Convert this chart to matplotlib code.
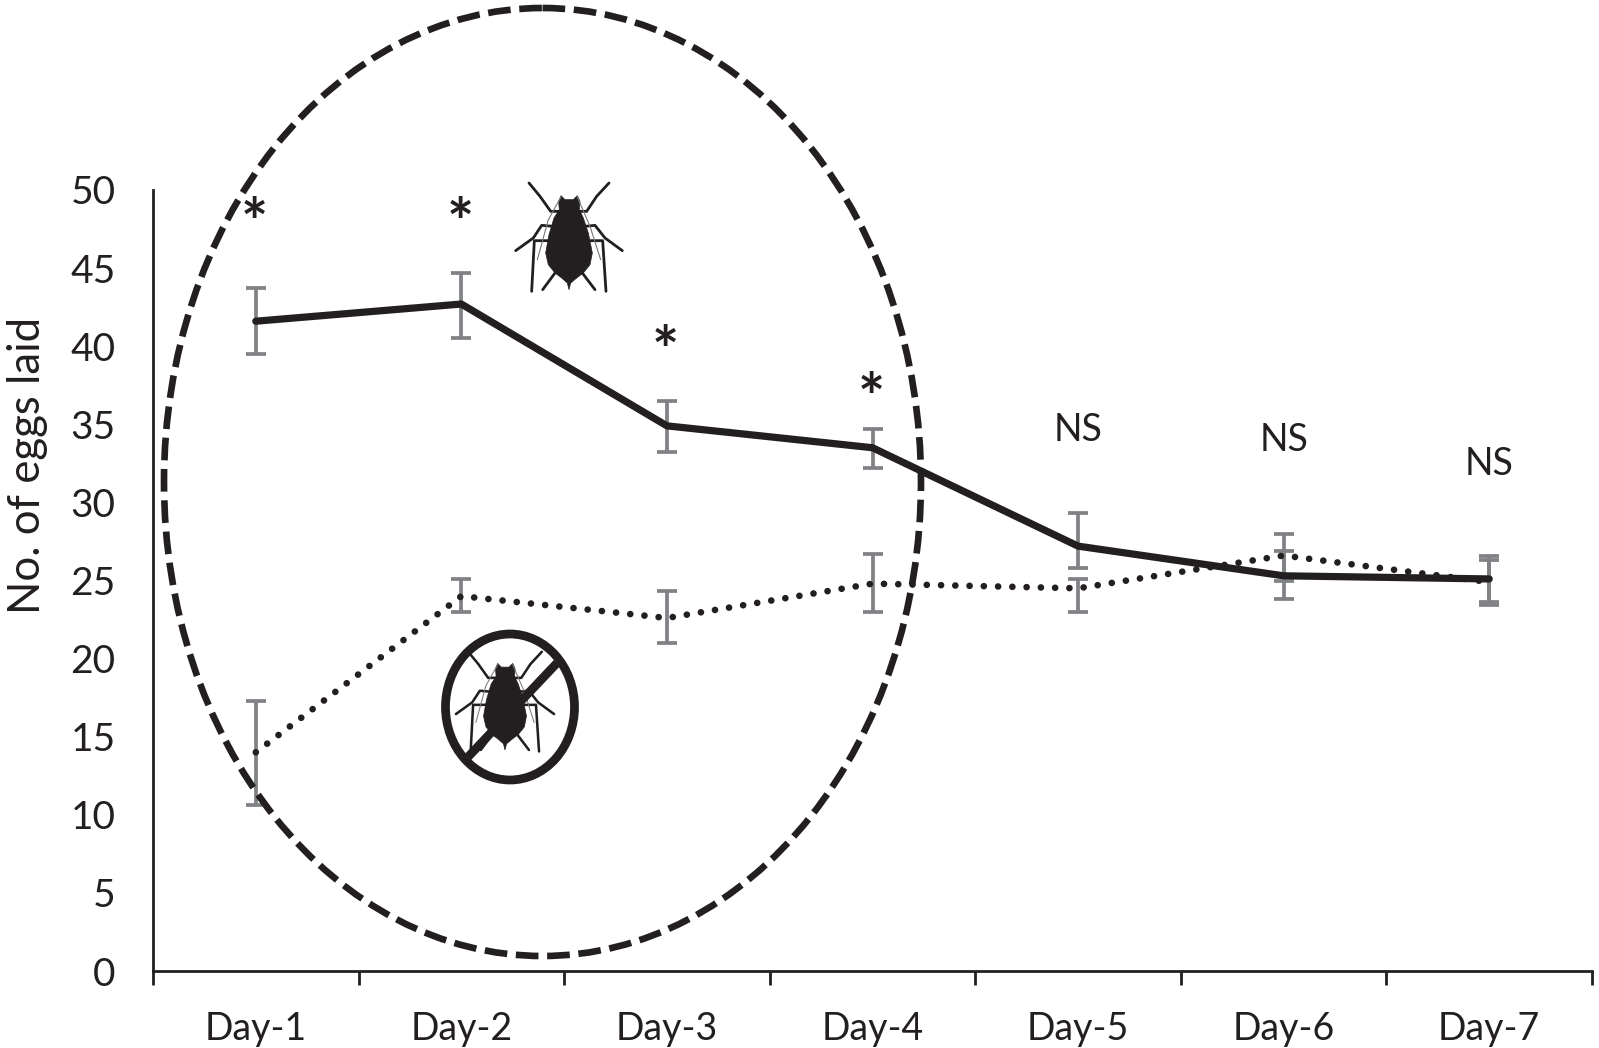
import matplotlib
matplotlib.use("Agg")
import matplotlib.pyplot as plt
from matplotlib.patches import Ellipse, Polygon

plt.rcParams['font.family'] = ['Lato', 'DejaVu Sans']

days = ["Day-1", "Day-2", "Day-3", "Day-4", "Day-5", "Day-6", "Day-7"]

# with aphids (solid line)
solid = [41.6, 42.7, 34.9, 33.5, 27.2, 25.3, 25.1]
solid_hi = [43.7, 44.7, 36.5, 34.7, 29.3, 26.9, 26.6]
solid_lo = [39.5, 40.5, 33.2, 32.2, 25.8, 23.8, 23.6]

# without aphids (dotted line)
dotted = [14.0, 24.0, 22.6, 24.8, 24.5, 26.6, 24.9]
dotted_hi = [17.3, 25.1, 24.3, 26.7, 25.1, 28.0, 26.3]
dotted_lo = [10.6, 23.0, 21.0, 23.0, 23.0, 25.0, 23.4]

marks = ["*", "*", "*", "*", "NS", "NS", "NS"]
mark_y = [48.9, 48.9, 40.7, 37.7, 34.8, 34.1, 32.6]

BLACK = '#231f20'
GREY = '#808285'

fig = plt.figure(figsize=(15.99, 10.48), dpi=100)
ax = fig.add_axes([153 / 1599, (1048 - 971) / 1048, 1439 / 1599, 781 / 1048])

x = list(range(len(days)))


def err(vals, hi, lo):
    return [[v - l for v, l in zip(vals, lo)], [h - v for v, h in zip(vals, hi)]]


for vals, hi, lo in [(solid, solid_hi, solid_lo), (dotted, dotted_hi, dotted_lo)]:
    ax.errorbar(x, vals, yerr=err(vals, hi, lo), fmt='none', ecolor=GREY,
                elinewidth=2.7, capsize=7.5, capthick=2.7, zorder=2)

ax.plot(x, dotted, color=BLACK, lw=4.8, linestyle=(0, (0.01, 2.13)),
        dash_capstyle='round', zorder=3)
ax.plot(x, solid, color=BLACK, lw=5.2, solid_capstyle='round', zorder=4)

for xi, m, my in zip(x, marks, mark_y):
    if m == "*":
        ax.annotate(m, (xi, my), xytext=(-1, -14), textcoords='offset points',
                    ha='center', va='center', color=BLACK, fontsize=46, fontweight='bold')
    else:
        ax.annotate(m, (xi, my), xytext=(0, -1.5), textcoords='offset points',
                    ha='center', va='center', color=BLACK, fontsize=27)

ax.set_xlim(-0.5, 6.5)
ax.set_ylim(0, 50)
ax.set_xticks([i - 0.5 for i in range(8)])
ax.set_xticklabels([])
ax.set_xticks(x, minor=True)
ax.set_xticklabels(days, minor=True, fontsize=27, color=BLACK)
ax.tick_params(axis='x', which='major', length=10, width=2, color=BLACK)
ax.tick_params(axis='x', which='minor', length=0, pad=29)
ax.set_yticks(range(0, 51, 5))
ax.tick_params(axis='y', length=0, pad=27, labelsize=28, labelcolor=BLACK)
ax.set_ylabel("No. of eggs laid", fontsize=31.5, color=BLACK)
ax.yaxis.set_label_coords(-0.073, 0.647)
ax.spines['top'].set_visible(False)
ax.spines['right'].set_visible(False)
ax.spines['left'].set_linewidth(2)
ax.spines['bottom'].set_linewidth(2)
ax.spines['left'].set_color(BLACK)
ax.spines['bottom'].set_color(BLACK)

# overlay in picture pixels for the ring and the aphid icons
ov = fig.add_axes([0, 0, 1, 1])
ov.set_xlim(0, 1599)
ov.set_ylim(1048, 0)
ov.axis('off')

ov.add_patch(Ellipse((542.5, 482), 757, 948, fill=False, edgecolor=BLACK, lw=4.8,
                     linestyle=(0, (3.4, 1.3))))

# aphid outline
body = [(243, 108), (255, 120), (280, 120), (292, 108), (300, 125), (298, 150), (310, 175),
        (325, 220), (337, 280), (330, 315), (310, 340), (290, 355), (272, 370), (267, 390),
        (262, 370), (245, 355), (225, 340), (205, 315), (197, 280), (207, 225), (222, 175),
        (238, 150), (236, 125)]
legs = [[(147, 70), (180, 110), (212, 155), (240, 155)],
        [(387, 70), (350, 110), (320, 155), (295, 155)],
        [(107, 273), (160, 235), (185, 197), (220, 200)],
        [(427, 273), (375, 235), (345, 197), (315, 200)],
        [(155, 395), (163, 243), (205, 243)],
        [(378, 395), (368, 243), (330, 243)],
        [(225, 340), (188, 390)],
        [(307, 340), (345, 390)]]
thin = [[(172, 300), (205, 180), (243, 112)],
        [(362, 300), (330, 200), (292, 112)]]


def draw_aphid(cx, cy, k):
    def conv(pts):
        return [(cx + (px - 267) / 3 * k, cy + (py - 250) / 3 * k) for px, py in pts]
    ov.add_patch(Polygon(conv(body), closed=True, color=BLACK, lw=0.5))
    for leg in legs:
        xs, ys = zip(*conv(leg))
        ov.plot(xs, ys, color=BLACK, lw=2.0 * k, solid_capstyle='round')
    for leg in thin:
        xs, ys = zip(*conv(leg))
        ov.plot(xs, ys, color='#77787b', lw=0.8 * k)


draw_aphid(569, 243, 1.0)
draw_aphid(505, 707, 0.92)

# "no aphids" sign
ov.add_patch(Ellipse((510, 707), 129, 146, fill=False, edgecolor=BLACK, lw=6.3))
ov.plot([468, 557], [757, 663], color=BLACK, lw=6.3, solid_capstyle='butt')

fig.savefig("out.png", dpi=100)
